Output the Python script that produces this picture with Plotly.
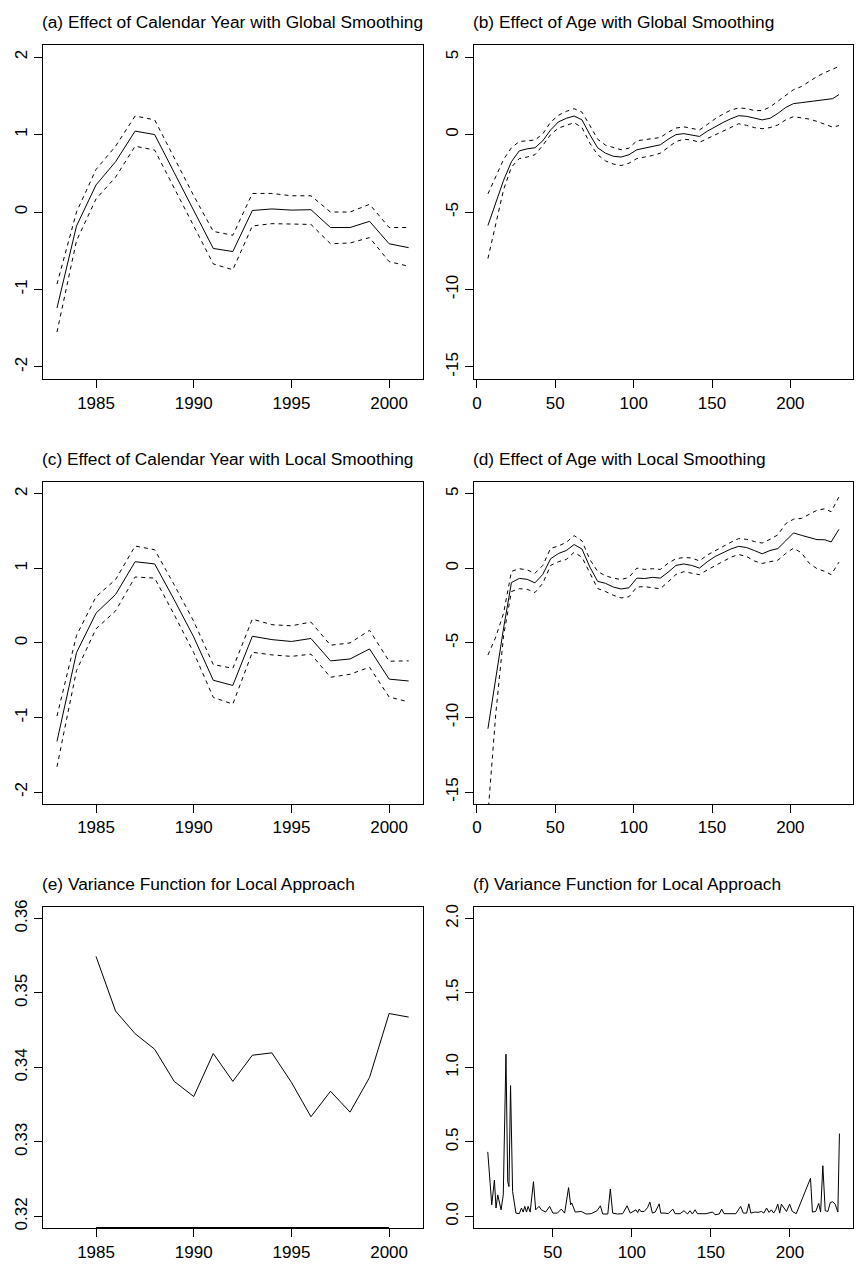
import plotly.graph_objects as go

# ---------------- data ----------------
years = list(range(1983, 2002))

# (a) calendar-year effect, global smoothing
a_fit = [-1.24, -0.18, 0.35, 0.65, 1.045, 1.0, 0.51, 0.02, -0.47, -0.51,
         0.02, 0.04, 0.025, 0.03, -0.2, -0.2, -0.12, -0.41, -0.46]
a_upper = [-0.93, 0.0, 0.55, 0.85, 1.24, 1.19, 0.7, 0.21, -0.25, -0.3,
           0.24, 0.24, 0.21, 0.21, 0.0, 0.0, 0.1, -0.2, -0.2]
a_lower = [-1.55, -0.37, 0.17, 0.45, 0.85, 0.8, 0.31, -0.17, -0.67, -0.745,
           -0.18, -0.15, -0.155, -0.16, -0.41, -0.4, -0.33, -0.64, -0.7]

# (c) calendar-year effect, local smoothing
c_fit = [-1.32, -0.13, 0.40, 0.65, 1.09, 1.06, 0.58, 0.08, -0.50, -0.57,
         0.09, 0.045, 0.02, 0.06, -0.24, -0.215, -0.08, -0.485, -0.51]
c_upper = [-0.98, 0.1, 0.62, 0.85, 1.30, 1.25, 0.78, 0.29, -0.29, -0.34,
           0.32, 0.245, 0.23, 0.28, -0.03, 0.0, 0.17, -0.245, -0.24]
c_lower = [-1.66, -0.37, 0.19, 0.43, 0.885, 0.87, 0.38, -0.13, -0.73, -0.82,
           -0.125, -0.16, -0.18, -0.15, -0.46, -0.42, -0.325, -0.725, -0.79]

# (e) variance function over calendar year
e_years = list(range(1985, 2002))
e_var = [0.3549, 0.34756, 0.34453, 0.34244, 0.33813, 0.33609, 0.34187, 0.33813,
         0.34164, 0.34196, 0.3380, 0.33338, 0.3368, 0.3340, 0.33867, 0.34724, 0.34676]

# (b) age effect, global smoothing
b_age = [7, 12, 17, 22, 27, 32, 37, 42, 47, 52, 57, 62, 67, 72, 77, 82, 87, 92, 97,
         102, 107, 112, 117, 122, 127, 132, 137, 142, 147, 152, 157, 162, 167, 172,
         177, 182, 187, 192, 197, 202, 207, 212, 217, 222, 227, 231]
b_fit = [-5.87, -4.4, -2.95, -1.75, -1.05, -0.92, -0.85, -0.4, 0.3, 0.82, 1.05, 1.2,
         0.95, 0.0, -0.85, -1.2, -1.4, -1.45, -1.3, -0.98, -0.88, -0.8, -0.66, -0.3,
         0.0, 0.06, -0.05, -0.12, 0.22, 0.52, 0.78, 1.02, 1.22, 1.18, 1.05, 0.95,
         1.05, 1.37, 1.75, 2.0, 2.06, 2.12, 2.17, 2.22, 2.32, 2.58]
b_upper = [-3.83, -2.7, -1.6, -0.85, -0.45, -0.4, -0.35, 0.05, 0.8, 1.25, 1.5, 1.67,
           1.45, 0.6, -0.3, -0.68, -0.85, -0.98, -0.88, -0.4, -0.33, -0.28, -0.19,
           0.15, 0.42, 0.5, 0.42, 0.3, 0.65, 1.02, 1.32, 1.58, 1.72, 1.68, 1.55,
           1.55, 1.78, 2.15, 2.55, 2.9, 3.1, 3.45, 3.75, 4.0, 4.2, 4.4]
b_lower = [-8.0, -5.87, -3.55, -2.1, -1.55, -1.45, -1.3, -0.7, 0.0, 0.42, 0.62, 0.77,
           0.45, -0.55, -1.3, -1.7, -1.9, -2.0, -1.85, -1.55, -1.45, -1.35, -1.2,
           -0.8, -0.45, -0.3, -0.35, -0.5, -0.25, 0.0, 0.25, 0.5, 0.7, 0.6, 0.45,
           0.38, 0.45, 0.62, 0.95, 1.16, 1.1, 1.0, 0.85, 0.65, 0.48, 0.58]

# (d) age effect, local smoothing
d_age = [7, 12, 17, 22, 27, 32, 37, 42, 47, 52, 57, 62, 67, 72, 77, 82, 87, 92, 97,
         102, 107, 112, 117, 122, 127, 132, 137, 142, 147, 152, 157, 162, 167, 172,
         177, 182, 187, 192, 197, 202, 207, 212, 217, 222, 226, 231]
d_fit = [-10.75, -7.25, -4.0, -0.95, -0.67, -0.73, -0.97, -0.4, 0.65, 1.0, 1.2, 1.6,
         1.3, 0.1, -0.87, -1.0, -1.25, -1.38, -1.3, -0.65, -0.68, -0.6, -0.65, -0.25,
         0.2, 0.3, 0.2, 0.02, 0.45, 0.8, 1.05, 1.3, 1.48, 1.4, 1.2, 0.98, 1.2, 1.33,
         1.85, 2.38, 2.22, 2.05, 1.93, 1.92, 1.77, 2.62]
d_upper = [-5.81, -4.6, -3.0, -0.2, -0.02, -0.1, -0.33, 0.2, 1.35, 1.5, 1.75, 2.2,
           1.85, 0.6, -0.2, -0.5, -0.65, -0.75, -0.6, 0.02, -0.07, -0.02, -0.07, 0.35,
           0.65, 0.73, 0.7, 0.5, 0.9, 1.2, 1.45, 1.75, 2.0, 1.95, 1.8, 1.7, 1.95, 2.25,
           3.0, 3.3, 3.35, 3.6, 3.9, 4.0, 3.8, 4.8]
d_lower = [-16.5, -9.75, -4.5, -1.55, -1.36, -1.4, -1.62, -1.0, 0.2, 0.45, 0.6, 1.08,
           0.75, -0.25, -1.35, -1.55, -1.8, -1.98, -1.9, -1.25, -1.22, -1.3, -1.36,
           -0.9, -0.4, -0.22, -0.3, -0.42, -0.1, 0.2, 0.45, 0.75, 0.93, 0.8, 0.5,
           0.33, 0.45, 0.55, 1.0, 1.36, 1.05, 0.35, -0.02, -0.2, -0.42, 0.42]

# (f) variance function over age
f_age = [8.9, 11.4, 13.1, 14.1, 15.2, 16.2, 17.3, 18.7, 20.4, 21.5, 22.3, 23.3, 24.6,
         26.7, 28.8, 30.2, 31.3, 32.3, 33.4, 34.4, 35.7, 37.8, 39.2, 41.3, 42.8, 45.5,
         48.0, 50.1, 52.9, 55.4, 57.5, 60.0, 61.3, 62.0, 64.2, 68.0, 71.1, 74.3, 78.0,
         80.1, 81.6, 84.8, 86.4, 87.9, 91.0, 94.2, 97.0, 99.0, 101.1, 102.6, 103.7,
         104.7, 105.7, 107.8, 109.9, 111.4, 113.0, 114.8, 117.3, 118.3, 121.0, 123.0,
         125.9, 127.4, 130.5, 133.0, 135.2, 136.8, 138.3, 140.0, 141.5, 144.2, 146.9,
         151.1, 152.6, 155.3, 156.8, 158.3, 162.1, 165.8, 168.8, 170.5, 172.6, 174.0,
         175.3, 177.8, 179.9, 182.0, 183.5, 185.2, 186.8, 188.3, 189.7, 191.0, 192.3,
         193.5, 194.6, 196.1, 197.8, 199.8, 201.5, 204.0, 213.0, 214.2, 216.3, 218.2,
         219.4, 220.8, 222.3, 224.0, 225.5, 227.1, 228.6, 230.3, 231.3]
f_var = [0.433, 0.078, 0.244, 0.056, 0.144, 0.10, 0.044, 0.144, 1.089, 0.233, 0.20,
         0.878, 0.167, 0.022, 0.018, 0.056, 0.029, 0.067, 0.029, 0.067, 0.029, 0.233,
         0.044, 0.067, 0.044, 0.029, 0.067, 0.022, 0.022, 0.049, 0.022, 0.193, 0.078,
         0.09, 0.029, 0.033, 0.016, 0.018, 0.038, 0.071, 0.016, 0.016, 0.184, 0.022,
         0.016, 0.018, 0.071, 0.022, 0.033, 0.044, 0.025, 0.049, 0.033, 0.033, 0.058,
         0.096, 0.022, 0.029, 0.084, 0.022, 0.022, 0.018, 0.049, 0.018, 0.018, 0.038,
         0.016, 0.038, 0.016, 0.044, 0.018, 0.016, 0.018, 0.029, 0.011, 0.016, 0.049,
         0.018, 0.016, 0.018, 0.067, 0.022, 0.022, 0.084, 0.022, 0.029, 0.027, 0.033,
         0.022, 0.056, 0.027, 0.044, 0.022, 0.044, 0.082, 0.022, 0.082, 0.056, 0.033,
         0.082, 0.033, 0.018, 0.256, 0.029, 0.033, 0.087, 0.029, 0.34, 0.038, 0.033,
         0.093, 0.098, 0.082, 0.029, 0.556]

# tick labels
year_ticks = [1985, 1990, 1995, 2000]
ac_yticks = [-2, -1, 0, 1, 2]
bd_xticks = [0, 50, 100, 150, 200]
f_xticks = [50, 100, 150, 200]
bd_yticks = [-15, -10, -5, 0, 5]
e_yticks = [0.32, 0.33, 0.34, 0.35, 0.36]
f_yticks = [0.0, 0.5, 1.0, 1.5, 2.0]

titles = [
    "(a) Effect of Calendar Year with Global Smoothing",
    "(b) Effect of Age with Global Smoothing",
    "(c) Effect of Calendar Year with Local Smoothing",
    "(d) Effect of Age with Local Smoothing",
    "(e) Variance Function for Local Approach",
    "(f) Variance Function for Local Approach",
]

# ---------------- layout geometry ----------------
W, H = 858, 1271
FONT = "Liberation Sans, Arial, Helvetica, sans-serif"
FS = 17
TITLE_FS = 17.3

col_x = [(41, 421.7), (473, 853)]
row_y = [(38, 375), (478.3, 802.7), (906, 1230)]


def xdom(c):
    return [col_x[c][0] / W, col_x[c][1] / W]


def ydom(r):
    return [1 - row_y[r][1] / H, 1 - row_y[r][0] / H]


def lbl(v, fmt="{:g}"):
    return fmt.format(v).replace("\u2212", "-")


fig = go.Figure()

solid = dict(color="black", width=1)
dashed = dict(color="black", width=1, dash="4px,4px")


def add(x, y, ax, line):
    fig.add_trace(go.Scatter(x=x, y=y, mode="lines", line=line,
                             xaxis="x" + ax, yaxis="y" + ax,
                             showlegend=False, hoverinfo="skip"))


add(years, a_upper, "1", dashed)
add(years, a_lower, "1", dashed)
add(years, a_fit, "1", solid)

add(b_age, b_upper, "2", dashed)
add(b_age, b_lower, "2", dashed)
add(b_age, b_fit, "2", solid)

add(years, c_upper, "3", dashed)
add(years, c_lower, "3", dashed)
add(years, c_fit, "3", solid)

add(d_age, d_upper, "4", dashed)
add(d_age, d_lower, "4", dashed)
add(d_age, d_fit, "4", solid)

add(e_years, e_var, "5", solid)
add(f_age, f_var, "6", solid)

panels = [
    # (col, row, xrange, xticks, yrange, yticks, yfmt)
    (0, 0, [1982.28, 2001.72], year_ticks, [-2.16, 2.16], ac_yticks, "{:g}"),
    (1, 0, [-1.96, 239.96], bd_xticks, [-15.8, 5.8], bd_yticks, "{:g}"),
    (0, 1, [1982.28, 2001.72], year_ticks, [-2.16, 2.16], ac_yticks, "{:g}"),
    (1, 1, [-1.96, 239.96], bd_xticks, [-15.8, 5.8], bd_yticks, "{:g}"),
    (0, 2, [1982.28, 2001.72], year_ticks, [0.3184, 0.3616], e_yticks, "{:.2f}"),
    (1, 2, [0.12, 239.88], f_xticks, [-0.08, 2.08], f_yticks, "{:.1f}"),
]

axis_common = dict(showgrid=False, zeroline=False, showline=True, mirror=True,
                   linecolor="black", linewidth=1, ticks="outside", ticklen=8,
                   tickwidth=1, tickcolor="black",
                   tickfont=dict(family=FONT, size=FS, color="black"))

annotations = []
for i, (c, r, xr, xt, yr, yt, yf) in enumerate(panels):
    n = str(i + 1)
    key = "" if i == 0 else n
    fig.layout["xaxis" + key] = dict(
        domain=xdom(c), range=xr, anchor="y" + n,
        tickvals=xt, ticktext=[lbl(v) for v in xt], **axis_common)
    fig.layout["yaxis" + key] = dict(
        domain=ydom(r), range=yr, anchor="x" + n,
        tickvals=yt, ticktext=[lbl(v, yf) for v in yt], tickangle=-90,
        **axis_common)
    annotations.append(dict(
        text=titles[i], xref="paper", yref="paper",
        x=(col_x[c][0] - 2) / W, y=1 - (row_y[r][0] - 23) / H,
        xanchor="left", yanchor="middle", showarrow=False, borderpad=0,
        font=dict(family=FONT, size=TITLE_FS, color="black")))

# heavier axis segment between the first and last year ticks in (e)
fig.add_shape(type="line", xref="x5", yref="y5",
              x0=year_ticks[0], x1=year_ticks[-1],
              y0=panels[4][4][0], y1=panels[4][4][0],
              line=dict(color="black", width=2.5))

fig.update_layout(
    width=W, height=H,
    margin=dict(l=0, r=0, t=0, b=0),
    paper_bgcolor="white", plot_bgcolor="white",
    annotations=annotations,
    font=dict(family=FONT, size=FS, color="black"),
)

fig.write_html("out.html")
